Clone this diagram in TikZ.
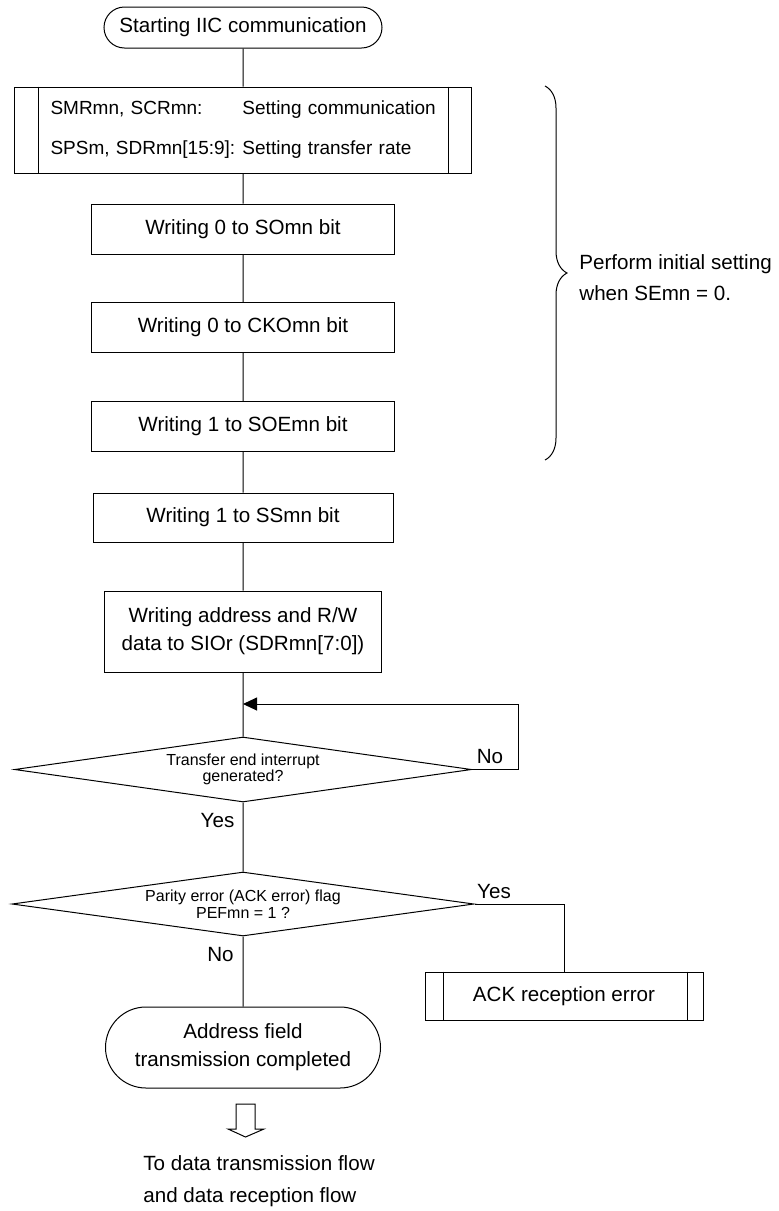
\documentclass[tikz,border=0pt]{standalone}
\usepackage{fontspec}
\setmainfont{Liberation Sans}
\usepackage{tikz}
\usetikzlibrary{positioning, calc, shapes.geometric, shapes.misc, arrows.meta, decorations.pathreplacing}

\tikzset{
  base/.style={draw, line width=0.5pt, inner sep=0pt, align=center, font=\fontsize{10.3}{14}\selectfont},
  term/.style={base, rounded rectangle},
  proc/.style={base, rectangle},
  decide/.style={base, diamond, aspect=7, font=\fontsize{8}{8.2}\selectfont},
  lbl/.style={inner sep=0pt, font=\fontsize{10.3}{12}\selectfont},
  flow/.style={line width=0.5pt},
}

\begin{document}
\begin{tikzpicture}[x=0.5pt, y=-0.5pt]
  \useasboundingbox (0,0) rectangle (778,1211);

  % Start und Initialisierung
  \node[term, minimum width=139pt, minimum height=20.5pt] (start) at (243,27.5) {Starting IIC communication};
  \node[proc, minimum width=228.5pt, minimum height=43pt, text width=192.5pt, align=left,
        font=\fontsize{9.5}{20}\selectfont] (init) at (243,130)
        {\mbox{\makebox[96pt][l]{SMRmn, SCRmn:}Setting communication}\\\mbox{\makebox[96pt][l]{SPSm, SDRmn[15:9]:}Setting transfer rate}};
  \draw[flow] ([xshift=12pt]init.north west) -- ([xshift=12pt]init.south west);
  \draw[flow] ([xshift=-12pt]init.north east) -- ([xshift=-12pt]init.south east);

  \node[proc, minimum width=151.5pt, minimum height=25pt] (so) at (243,229) {Writing 0 to SOmn bit};
  \node[proc, minimum width=151.5pt, minimum height=25pt] (cko) at (243,327.5) {Writing 0 to CKOmn bit};
  \node[proc, minimum width=151.5pt, minimum height=25pt] (soe) at (243,426.5) {Writing 1 to SOEmn bit};
  \node[proc, minimum width=150pt, minimum height=24.5pt] (ss) at (243,517.5) {Writing 1 to SSmn bit};
  \node[proc, minimum width=138.5pt, minimum height=40.5pt] (addr) at (243,631.5) {Writing address and R/W\\data to SIOr (SDRmn[7:0])};

  % Klammer mit Hinweis
  \coordinate (brtop) at (545,86);
  \coordinate (brbot) at (545,460);
  \draw[flow, decorate, decoration={brace, amplitude=11pt}] (brtop) -- (brbot);
  \node[lbl, anchor=west, align=left, font=\fontsize{10.3}{15.5}\selectfont] (note) at (579,277.5) {Perform initial setting\\when SEmn = 0.};

  % Abfragen
  \node[decide, minimum width=228.5pt, minimum height=32.5pt] (irq) at (243,769.5) {Transfer end interrupt\\generated?};
  \node[decide, minimum width=231pt, minimum height=32pt] (pef) at (243,904) {Parity error (ACK error) flag\\PEFmn = 1 ?};

  \node[proc, minimum width=139pt, minimum height=24pt] (ackerr) at (564,996) {ACK reception error};
  \draw[flow] ([xshift=9.5pt]ackerr.north west) -- ([xshift=9.5pt]ackerr.south west);
  \draw[flow] ([xshift=-8pt]ackerr.north east) -- ([xshift=-8pt]ackerr.south east);

  \node[term, minimum width=137.5pt, minimum height=40.5pt] (done) at (243,1047.5) {Address field\\transmission completed};

  % Verbindungen
  \draw[flow] (start) -- (init) -- (so) -- (cko) -- (soe) -- (ss) -- (addr) -- (irq) -- (pef) -- (done);
  \coordinate (loopin) at (243,704);
  \coordinate (loopx) at (518,704);
  \draw[flow, -{Triangle[length=7pt, width=6.5pt]}] (irq.east) -| (loopx) -- (loopin);
  \draw[flow] (pef.east) -| (ackerr.north);

  \node[lbl] (no1) at (490,757) {No};
  \node[lbl] (yes1) at (217.5,821) {Yes};
  \node[lbl] (yes2) at (494,892) {Yes};
  \node[lbl] (no2) at (220.5,955) {No};

  % Weiter zum naechsten Ablauf
  \draw[flow] (236,1104) -- (236,1129) -- (228,1129) -- (245.5,1137) -- (264,1129) -- (255,1129) -- (255,1104) -- cycle;
  \node[lbl, anchor=west, align=left, font=\fontsize{10.3}{16}\selectfont] (next) at (143,1181) {To data transmission flow\\and data reception flow};
\end{tikzpicture}
\end{document}
